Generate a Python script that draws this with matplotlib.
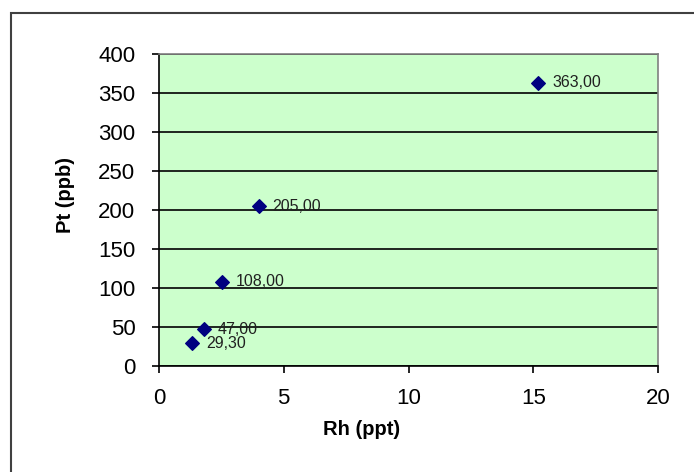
import matplotlib
matplotlib.use("Agg")
import matplotlib.pyplot as plt
from matplotlib.patches import Rectangle

# Rh (ppt) vs Pt (ppb)
rh = [1.32, 1.8, 2.52, 4.0, 15.2]
pt = [29.3, 47.0, 108.0, 205.0, 363.0]
labels = ["29,30", "47,00", "108,00", "205,00", "363,00"]
x_ticks = [0, 5, 10, 15, 20]
y_ticks = [0, 50, 100, 150, 200, 250, 300, 350, 400]

plt.rcParams['font.family'] = ['Liberation Sans', 'DejaVu Sans']

fig = plt.figure(figsize=(6.94, 4.72), dpi=100)
fig.patch.set_facecolor('white')

# outer chart frame (right and bottom edges run off the picture)
frame = Rectangle((11 / 694, -0.05), 1.0, (472 - 13) / 472 + 0.05,
                  transform=fig.transFigure, fill=False,
                  edgecolor='#404040', linewidth=1.5)
fig.add_artist(frame)

ax = fig.add_axes([159 / 694, (472 - 366) / 472, (658 - 159) / 694, (366 - 54) / 472])
ax.set_facecolor('#ccffcc')

ax.set_xlim(0, 20)
ax.set_ylim(0, 400)
ax.set_xticks(x_ticks)
ax.set_yticks(y_ticks)
ax.yaxis.grid(True, color='black', linewidth=1.2)
ax.set_axisbelow(True)

ax.scatter(rh, pt, marker='D', s=48, color='#000080', zorder=3)
for x, y, t in zip(rh, pt, labels):
    ax.annotate(t, (x, y), xytext=(10, 0), textcoords='offset points',
                va='center', ha='left', fontsize=11.5, color='#202020')

for s in ['top', 'right']:
    ax.spines[s].set_color('#808080')
    ax.spines[s].set_linewidth(1.2)
for s in ['left', 'bottom']:
    ax.spines[s].set_color('black')
    ax.spines[s].set_linewidth(1.2)

ax.tick_params(direction='out', length=5, width=1.2, labelsize=16, colors='black')
ax.tick_params(axis='y', pad=12)
ax.tick_params(axis='x', pad=11)
ax.set_xlabel('Rh (ppt)', fontsize=14.5, fontweight='bold')
ax.set_ylabel('Pt (ppb)', fontsize=14.5, fontweight='bold')
ax.xaxis.set_label_coords(0.405, -0.172)
ax.yaxis.set_label_coords(-0.168, 0.548)

fig.savefig('out.png', dpi=100)
